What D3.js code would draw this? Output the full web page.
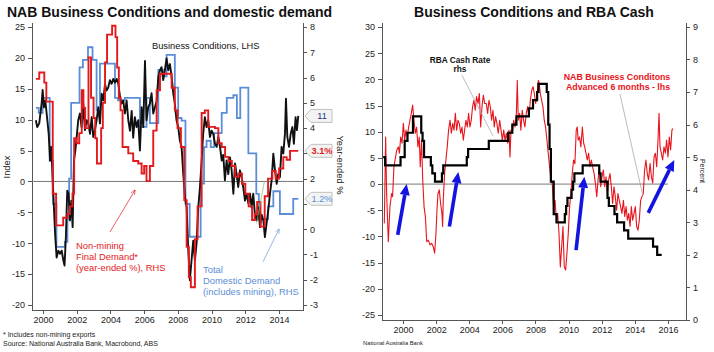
<!doctype HTML>
<html lang="en">
<head>
<title>NAB Business Conditions</title>
<script src="https://d3js.org/d3.v7.min.js"></script>
<style type="text/css">
  body { margin: 0; background: #fff; }
  svg text { font-family: "Liberation Sans", Arial, sans-serif; }
  .axis path,
  .axis line {
	fill: none;
	stroke: #555;
	shape-rendering: crispEdges;
  }
  .axis text {
	font-size: 9px;
	fill: #222;
  }
</style>
</head>
<body>
<script type="text/javascript">

// ---- data: [decimal year, value] ----

// NAB business conditions, index (left chart, LHS)
var condLhs = [
 [1999.58, 9.9], [1999.66, 8.8], [1999.78, 9.4], [1999.92, 12.6], [1999.98, 14.8], [2000.06, 12.0], [2000.14, 13.1],
 [2000.26, 9.9], [2000.34, 7.7], [2000.42, 3.4], [2000.49, 5.6], [2000.57, 0.7], [2000.65, -4.2], [2000.73, -9.0],
 [2000.81, -12.3], [2000.91, -11.2], [2001.01, -11.7], [2001.11, -11.2], [2001.21, -12.8], [2001.28, -13.6],
 [2001.36, -9.0], [2001.44, -1.5], [2001.52, -2.0], [2001.6, -6.3], [2001.68, -3.1], [2001.76, -7.4], [2001.84, 3.4],
 [2001.92, 5.0], [2002.0, 7.2], [2002.09, 9.9], [2002.19, 11.0], [2002.29, 8.8], [2002.39, 12.6], [2002.49, 8.3],
 [2002.59, 9.9], [2002.69, 9.4], [2002.79, 7.7], [2002.89, 10.4], [2002.98, 7.2], [2003.08, 8.3], [2003.18, 9.9],
 [2003.28, 12.0], [2003.38, 9.4], [2003.48, 14.2], [2003.58, 13.1], [2003.68, 15.8], [2003.77, 14.7], [2003.87, 15.2],
 [2003.97, 16.4], [2004.07, 15.8], [2004.17, 16.6], [2004.27, 16.0], [2004.37, 16.6], [2004.47, 15.8], [2004.57, 13.7],
 [2004.66, 12.6], [2004.76, 13.1], [2004.86, 11.0], [2004.96, 13.1], [2005.06, 9.9], [2005.16, 8.2], [2005.26, 11.4],
 [2005.35, 7.1], [2005.45, 10.4], [2005.55, 8.8], [2005.65, 9.9], [2005.75, 5.0], [2005.85, 12.0], [2005.95, 8.8],
 [2006.05, 19.5], [2006.14, 9.9], [2006.24, 12.0], [2006.34, 12.6], [2006.44, 14.3], [2006.54, 11.0], [2006.64, 12.0],
 [2006.74, 13.0], [2006.84, 16.9], [2006.94, 18.0], [2007.03, 18.5], [2007.13, 16.4], [2007.23, 18.0], [2007.33, 19.9],
 [2007.43, 18.0], [2007.53, 19.0], [2007.63, 16.9], [2007.73, 14.2], [2007.82, 12.6], [2007.92, 9.9], [2008.02, 8.8],
 [2008.12, 6.6], [2008.22, 5.6], [2008.32, 1.2], [2008.42, -2.5], [2008.52, -4.2], [2008.61, -10.7], [2008.71, -16.0],
 [2008.81, -12.8], [2008.91, -9.6], [2009.01, -12.8], [2009.11, -10.0], [2009.21, -4.2], [2009.31, -0.9], [2009.41, 3.4],
 [2009.5, 7.7], [2009.6, 10.4], [2009.7, 8.8], [2009.8, 9.9], [2009.9, 7.2], [2010.0, 8.2], [2010.1, 7.7], [2010.2, 6.1],
 [2010.3, 5.6], [2010.4, 7.2], [2010.5, 5.6], [2010.6, 3.4], [2010.69, 4.3], [2010.79, 0.2], [2010.89, 3.4],
 [2010.99, 1.2], [2011.09, 3.9], [2011.19, 1.8], [2011.29, -2.0], [2011.39, 2.9], [2011.48, 1.2], [2011.58, -0.9],
 [2011.68, 1.8], [2011.78, 0.7], [2011.88, -1.0], [2011.98, -3.1], [2012.08, -2.0], [2012.18, -3.6], [2012.28, -2.0],
 [2012.37, -4.2], [2012.47, -2.0], [2012.57, -5.4], [2012.67, -6.3], [2012.77, -4.2], [2012.87, -7.4], [2012.97, -5.4],
 [2013.07, -6.3], [2013.16, -9.0], [2013.26, -6.8], [2013.36, -4.7], [2013.46, -2.0], [2013.56, 0.2], [2013.66, 4.5],
 [2013.76, 1.8], [2013.86, -0.4], [2013.95, 1.2], [2014.05, 0.7], [2014.15, 5.6], [2014.25, 4.5], [2014.35, 7.7],
 [2014.41, 13.4], [2014.49, 7.2], [2014.59, 5.6], [2014.69, 7.7], [2014.79, 8.8], [2014.88, 6.1], [2014.98, 10.4],
 [2015.06, 8.3], [2015.14, 10.6]
];

// Non-mining final demand, year-ended % (RHS), steps
var demandNonMining = [
 [1999.58, 5.95], [1999.78, 6.2], [2000.08, 5.8], [2000.2, 5.05], [2000.58, 1.4], [2000.78, 0.15], [2001.2, 0.45],
 [2001.45, 0.6], [2001.6, 0.9], [2001.75, 1.4], [2001.85, 3.6], [2002.0, 3.4], [2002.15, 3.8], [2002.3, 5.5],
 [2002.4, 4.8], [2002.5, 4.0], [2002.7, 6.8], [2002.85, 5.2], [2003.0, 4.4], [2003.1, 3.6], [2003.2, 2.6],
 [2003.45, 4.0], [2003.55, 5.0], [2003.68, 6.6], [2003.8, 7.7], [2004.1, 8.05], [2004.3, 7.6], [2004.4, 6.4],
 [2004.5, 5.2], [2004.6, 4.7], [2004.72, 3.25], [2005.06, 3.0], [2005.35, 2.7], [2005.65, 2.6], [2005.85, 2.2],
 [2006.0, 2.5], [2006.14, 1.9], [2006.34, 2.5], [2006.54, 3.9], [2006.74, 5.5], [2006.94, 6.15], [2007.63, 5.6],
 [2007.82, 4.7], [2007.98, 4.0], [2008.18, 3.25], [2008.38, 1.15], [2008.52, -0.7], [2008.65, -1.9], [2008.77, -2.3],
 [2009.01, -0.4], [2009.17, 0.9], [2009.41, 4.6], [2009.6, 4.7], [2009.8, 4.05], [2010.2, 4.0], [2010.4, 3.4],
 [2010.6, 3.25], [2010.8, 2.86], [2011.0, 2.7], [2011.2, 2.5], [2011.4, 2.07], [2011.6, 2.2], [2011.8, 1.8],
 [2012.0, 1.4], [2012.2, 0.9], [2012.4, 0.36], [2012.55, 0.6], [2012.7, 1.08], [2012.9, 0.1], [2013.15, 1.3],
 [2013.35, 2.0], [2013.6, 2.3], [2013.8, 2.0], [2014.0, 2.4], [2014.25, 2.85], [2014.45, 2.75], [2014.65, 3.1],
 [2015.14, 3.1]
];

// Total domestic demand (includes mining), year-ended % (RHS), steps
var demandTotal = [
 [1999.58, 4.8], [1999.75, 4.6], [1999.98, 5.2], [2000.4, 2.7], [2000.6, 1.0], [2000.8, -0.7], [2001.3, -0.5],
 [2001.45, 0.4], [2001.55, 2.0], [2001.67, 5.0], [2002.17, 6.4], [2002.37, 6.7], [2002.67, 7.2], [2002.94, 6.7],
 [2003.18, 4.7], [2003.38, 6.55], [2004.27, 5.2], [2004.45, 5.1], [2004.85, 5.2], [2005.75, 4.05], [2006.14, 5.2],
 [2006.34, 4.2], [2006.84, 6.3], [2007.13, 6.05], [2007.33, 6.9], [2007.82, 5.6], [2008.02, 4.4], [2008.22, 4.3],
 [2008.45, 1.0], [2008.7, -0.3], [2009.35, 1.8], [2009.55, 3.25], [2009.7, 3.5], [2009.95, 3.25], [2010.15, 3.8],
 [2010.6, 4.6], [2010.9, 5.2], [2011.29, 5.3], [2011.5, 4.4], [2011.7, 5.6], [2012.18, 3.0], [2012.65, 1.4],
 [2012.8, 0.4], [2013.35, 0.9], [2013.66, 1.5], [2014.05, 0.6], [2014.84, 1.2], [2015.14, 1.2]
];

// NAB business conditions advanced 6 months (right chart, lhs)
var condAdvanced = [
 [1998.87, -7.5], [1998.95, 9.0], [1999.01, -1.8], [1999.11, -11.0], [1999.21, -4.3], [1999.31, -1.8], [1999.37, -2.4],
 [1999.45, 3.3], [1999.52, 4.6], [1999.62, 6.5], [1999.72, 7.1], [1999.78, 5.9], [1999.86, 9.0], [1999.94, 7.8],
 [2000.02, 11.6], [2000.1, 8.4], [2000.18, 10.3], [2000.26, 9.0], [2000.34, 10.9], [2000.42, 12.2], [2000.5, 13.5],
 [2000.58, 15.1], [2000.66, 12.2], [2000.74, 9.7], [2000.82, 10.9], [2000.9, 7.1], [2000.98, 9.0], [2001.04, 3.3],
 [2001.12, 8.4], [2001.19, 0.8], [2001.27, -4.3], [2001.35, -6.2], [2001.43, -11.0], [2001.53, -10.7], [2001.63, -11.6],
 [2001.73, -11.3], [2001.83, -12.0], [2001.91, -13.2], [2001.99, -9.4], [2002.05, -5.0], [2002.11, -1.8], [2002.19, -1.1],
 [2002.27, -3.7], [2002.35, -5.6], [2002.39, -8.1], [2002.43, -3.1], [2002.51, 2.0], [2002.59, 4.6], [2002.67, 7.1],
 [2002.75, 10.3], [2002.84, 12.2], [2002.92, 9.7], [2003.0, 11.6], [2003.08, 10.3], [2003.16, 13.5], [2003.24, 10.3],
 [2003.32, 12.2], [2003.4, 11.6], [2003.48, 9.7], [2003.56, 10.9], [2003.64, 8.4], [2003.72, 10.3], [2003.8, 12.2],
 [2003.88, 10.9], [2003.96, 13.5], [2004.04, 10.9], [2004.12, 12.2], [2004.2, 14.8], [2004.28, 16.0], [2004.36, 14.1],
 [2004.44, 16.7], [2004.53, 15.4], [2004.61, 17.3], [2004.69, 10.9], [2004.77, 14.8], [2004.85, 17.0], [2004.93, 15.4],
 [2005.03, 15.4], [2005.11, 13.5], [2005.19, 16.0], [2005.27, 14.8], [2005.35, 12.2], [2005.43, 14.1], [2005.51, 10.9],
 [2005.59, 12.9], [2005.67, 11.6], [2005.75, 9.7], [2005.84, 12.2], [2005.92, 10.3], [2006.0, 8.4], [2006.08, 10.3],
 [2006.16, 8.4], [2006.24, 9.7], [2006.32, 7.8], [2006.4, 10.3], [2006.46, 5.2], [2006.52, 10.3], [2006.6, 9.7],
 [2006.68, 12.2], [2006.76, 10.9], [2006.84, 12.9], [2006.9, 19.8], [2006.96, 12.2], [2007.04, 13.5], [2007.12, 10.3],
 [2007.2, 14.1], [2007.28, 12.2], [2007.36, 10.9], [2007.44, 13.5], [2007.53, 14.8], [2007.61, 12.9], [2007.69, 16.0],
 [2007.77, 17.9], [2007.85, 18.6], [2007.93, 17.3], [2008.01, 15.4], [2008.09, 16.7], [2008.17, 19.8], [2008.23, 19.2],
 [2008.29, 17.3], [2008.37, 16.0], [2008.45, 14.8], [2008.53, 12.2], [2008.61, 10.9], [2008.69, 8.4], [2008.77, 5.9],
 [2008.85, 3.3], [2008.93, 0.8], [2009.01, 0.1], [2009.09, -4.3], [2009.18, -3.1], [2009.26, -6.9], [2009.34, -5.6],
 [2009.42, -9.4], [2009.5, -15.8], [2009.58, -12.0], [2009.66, -8.1], [2009.74, -15.8], [2009.82, -16.4], [2009.9, -13.2],
 [2009.98, -9.4], [2010.06, -4.3], [2010.14, -1.8], [2010.22, 2.0], [2010.3, 4.6], [2010.38, 3.9], [2010.46, 10.3],
 [2010.52, 10.9], [2010.58, 8.4], [2010.66, 9.0], [2010.74, 7.1], [2010.83, 10.9], [2010.91, 7.8], [2010.97, 7.1],
 [2011.05, 5.9], [2011.13, 4.6], [2011.21, 5.9], [2011.29, 3.3], [2011.37, 4.6], [2011.45, 3.3], [2011.54, 2.0],
 [2011.62, 0.1], [2011.7, -2.4], [2011.78, 0.8], [2011.86, 3.3], [2011.94, -0.5], [2012.02, 1.4], [2012.1, 2.7],
 [2012.18, -0.5], [2012.26, 1.4], [2012.34, -1.8], [2012.42, 0.8], [2012.5, 2.0], [2012.58, -0.5], [2012.66, -3.7],
 [2012.74, -0.5], [2012.82, -2.4], [2012.9, -5.0], [2012.98, -1.8], [2013.06, -3.1], [2013.14, -4.3], [2013.22, -5.6],
 [2013.31, -3.1], [2013.39, -6.2], [2013.47, -4.3], [2013.55, -6.9], [2013.63, -5.6], [2013.71, -8.1], [2013.79, -4.3],
 [2013.87, -6.9], [2013.95, -5.6], [2014.03, -4.3], [2014.11, -8.1], [2014.19, -8.8], [2014.27, -6.9], [2014.35, -3.1],
 [2014.43, -2.4], [2014.51, -1.8], [2014.59, 2.7], [2014.67, 4.6], [2014.75, 2.0], [2014.83, 0.8], [2014.92, 3.9],
 [2015.0, 1.4], [2015.08, 0.2], [2015.16, 5.2], [2015.24, 5.9], [2015.32, 3.3], [2015.4, 8.4], [2015.46, 13.5],
 [2015.52, 7.1], [2015.6, 5.9], [2015.68, 4.6], [2015.76, 7.1], [2015.84, 5.9], [2015.92, 8.4], [2016.0, 5.2],
 [2016.08, 9.0], [2016.16, 6.5], [2016.24, 10.3], [2016.3, 10.6]
];

// RBA cash rate target, % (rhs), steps
var cashRate = [
 [1998.8, 5.0], [1998.92, 4.75], [1999.85, 5.0], [2000.1, 5.5], [2000.27, 5.75], [2000.6, 6.25], [2001.1, 5.75],
 [2001.18, 5.5], [2001.27, 5.0], [2001.68, 4.75], [2001.77, 4.5], [2001.93, 4.25], [2002.35, 4.5], [2002.43, 4.75],
 [2003.85, 5.0], [2003.93, 5.25], [2005.18, 5.5], [2006.35, 5.75], [2006.6, 6.0], [2006.85, 6.25], [2007.6, 6.5],
 [2007.85, 6.75], [2008.1, 7.0], [2008.18, 7.25], [2008.68, 7.0], [2008.77, 6.0], [2008.85, 5.25], [2008.93, 4.25],
 [2009.1, 3.25], [2009.27, 3.0], [2009.77, 3.25], [2009.85, 3.5], [2009.93, 3.75], [2010.18, 4.0], [2010.27, 4.25],
 [2010.35, 4.5], [2010.85, 4.75], [2011.85, 4.5], [2011.93, 4.25], [2012.35, 3.75], [2012.43, 3.5], [2012.77, 3.25],
 [2012.93, 3.0], [2013.35, 2.75], [2013.6, 2.5], [2015.1, 2.25], [2015.35, 2.0], [2015.62, 2.0]
];

// tick values
var leftYears = [2000, 2002, 2004, 2006, 2008, 2010, 2012, 2014];
var leftIndexTicks = [-20, -15, -10, -5, 0, 5, 10, 15, 20, 25];
var leftPctTicks = [-3, -2, -1, 0, 1, 2, 3, 4, 5, 6, 7, 8];
var leftPctHidden = [1, 3];   // labels sit under the callouts
var rightYears = [2000, 2002, 2004, 2006, 2008, 2010, 2012, 2014, 2016];
var rightIndexTicks = [-25, -20, -15, -10, -5, 0, 5, 10, 15, 20, 25, 30];
var rightPctTicks = [0, 1, 2, 3, 4, 5, 6, 7, 8, 9];

// annotation arrows in data units: [x1, y1, x2, y2]
var blueArrows = [[1999.68, -9.7, 2000.22, 0.0], [2002.8, -8.1, 2003.34, 2.3], [2010.45, -12.6, 2010.95, 1.4], [2014.81, -5.5, 2016.38, 4.6]];

var plain = function(d) { return String(d); };

var svg = d3.select("body").append("svg")
	.attr("width", 714)
	.attr("height", 352);

var defs = svg.append("defs");
function addMarker(id, colour) {
	defs.append("marker")
		.attr("id", id)
		.attr("viewBox", "0 0 10 10")
		.attr("refX", 9).attr("refY", 5)
		.attr("markerWidth", 7).attr("markerHeight", 7)
		.attr("orient", "auto")
		.append("path")
		.attr("d", "M0,1 L10,5 L0,9")
		.attr("fill", "none")
		.attr("stroke", colour)
		.attr("stroke-width", 1.2);
}
addMarker("headRed", "#e3191c");
addMarker("headBlue", "#6a98d6");

// ================= left chart =================
var xL = d3.scaleLinear().domain([1999.35, 2015.42]).range([32, 303]);
var yL = d3.scaleLinear().domain([-20.81, 25.81]).range([310, 22]);
var yLr = d3.scaleLinear().domain([-3.2, 8.2]).range([310, 22]);

svg.append("g").attr("class", "axis")
	.attr("transform", "translate(0," + yL.range()[0] + ")")
	.call(d3.axisBottom(xL).tickValues(leftYears).tickFormat(plain).tickSize(4).tickSizeOuter(0));
svg.append("g").attr("class", "axis")
	.attr("transform", "translate(" + xL.range()[0] + ",0)")
	.call(d3.axisLeft(yL).tickValues(leftIndexTicks).tickFormat(plain).tickSize(4).tickSizeOuter(0));
svg.append("g").attr("class", "axis")
	.attr("transform", "translate(" + xL.range()[1] + ",0)")
	.call(d3.axisRight(yLr).tickValues(leftPctTicks)
		.tickFormat(function(d) { return leftPctHidden.indexOf(d) >= 0 ? "" : String(d); })
		.tickSize(4).tickSizeOuter(0));

svg.append("line")
	.attr("x1", xL.range()[0]).attr("x2", xL.range()[1])
	.attr("y1", yL(0)).attr("y2", yL(0))
	.attr("stroke", "#777").attr("stroke-width", 1);

var stepLr = d3.line().curve(d3.curveStepAfter)
	.x(function(d) { return xL(d[0]); })
	.y(function(d) { return yLr(d[1]); });

svg.append("path").datum(demandTotal)
	.attr("fill", "none").attr("stroke", "#5b8ed6").attr("stroke-width", 1.8)
	.attr("d", stepLr);

svg.append("path").datum(condLhs)
	.attr("fill", "none").attr("stroke", "#111").attr("stroke-width", 1.9)
	.attr("stroke-linejoin", "round")
	.attr("d", d3.line().x(function(d) { return xL(d[0]); }).y(function(d) { return yL(d[1]); }));

svg.append("path").datum(demandNonMining)
	.attr("fill", "none").attr("stroke", "#e3191c").attr("stroke-width", 1.9)
	.attr("d", stepLr);

// leader lines
svg.append("line")
	.attr("x1", xL(2003.97)).attr("y1", yL(-8.2)).attr("x2", xL(2005.46)).attr("y2", yL(-1.4))
	.attr("stroke", "#e3191c").attr("stroke-width", 0.7).attr("marker-end", "url(#headRed)");
svg.append("line")
	.attr("x1", xL(2013.05)).attr("y1", yL(-13.0)).attr("x2", xL(2014.0)).attr("y2", yL(-7.7))
	.attr("stroke", "#6a98d6").attr("stroke-width", 0.7).attr("marker-end", "url(#headBlue)");
svg.append("line")
	.attr("x1", xL(2012.66)).attr("y1", yL(-6.8)).attr("x2", xL(2013.13)).attr("y2", yL(0))
	.attr("stroke", "#7fbf6a").attr("stroke-width", 0.7);

// titles and labels
svg.append("text").attr("x", 7).attr("y", 17)
	.style("font-size", "14px").style("font-weight", "bold").attr("fill", "#111")
	.text("NAB Business Conditions and domestic demand");

svg.append("text").attr("x", 152).attr("y", 49)
	.style("font-size", "9.3px").attr("fill", "#111")
	.text("Business Conditions, LHS");

var nm = svg.append("text").style("font-size", "9.4px").attr("fill", "#e3191c");
["Non-mining", "Final Demand*", "(year-ended %), RHS"].forEach(function(t, i) {
	nm.append("tspan").attr("x", 76).attr("y", 249 + i * 10.8).text(t);
});
var td = svg.append("text").style("font-size", "9.4px").attr("fill", "#5b8ed6");
["Total", "Domestic Demand", "(includes mining), RHS"].forEach(function(t, i) {
	td.append("tspan").attr("x", 203).attr("y", 273 + i * 11).text(t);
});

svg.append("text").attr("transform", "translate(10,167) rotate(-90)")
	.attr("text-anchor", "middle").style("font-size", "9.4px").attr("fill", "#222")
	.text("Index");
svg.append("text").attr("transform", "translate(337,165) rotate(90)")
	.attr("text-anchor", "middle").style("font-size", "9.4px").attr("fill", "#222")
	.text("Year-ended %");

// last value callouts
function callout(yPos, label, colour, weight) {
	var x0 = xL.range()[1] + 2, h = 6.5;
	svg.append("path")
		.attr("d", "M" + x0 + "," + yPos + " L" + (x0 + 6) + "," + (yPos - h) + " L" + (x0 + 27) + "," + (yPos - h) +
			" L" + (x0 + 27) + "," + (yPos + h) + " L" + (x0 + 6) + "," + (yPos + h) + " Z")
		.attr("fill", "#f3f3f3").attr("stroke", "#b3b3b3").attr("stroke-width", 0.8);
	svg.append("text").attr("x", x0 + 17).attr("y", yPos + 3.3)
		.attr("text-anchor", "middle").style("font-size", "9.2px").style("font-weight", weight)
		.attr("fill", colour).text(label);
}
var lastCond = condLhs[condLhs.length - 1][1];
var lastNm = demandNonMining[demandNonMining.length - 1][1];
var lastTd = demandTotal[demandTotal.length - 1][1];
callout(yL(lastCond), d3.format(".0f")(lastCond), "#2b2b86", "normal");
callout(yLr(lastNm), d3.format(".1f")(lastNm) + "%", "#e3191c", "bold");
callout(yLr(lastTd), d3.format(".1f")(lastTd) + "%", "#5b8ed6", "normal");

svg.append("text").attr("x", 3).attr("y", 337).style("font-size", "7px").attr("fill", "#222")
	.text("* Includes non-mining exports");
svg.append("text").attr("x", 3).attr("y", 346).style("font-size", "7px").attr("fill", "#222")
	.text("Source: National Australia Bank, Macrobond, ABS");

// ================= right chart =================
var xR = d3.scaleLinear().domain([1998.73, 2017.09]).range([382, 686]);
var yRl = d3.scaleLinear().domain([-25.95, 30.95]).range([320, 22]);
var yRr = d3.scaleLinear().domain([0, 9.15]).range([320, 22]);

svg.append("g").attr("class", "axis")
	.attr("transform", "translate(0," + yRl.range()[0] + ")")
	.call(d3.axisBottom(xR).tickValues(rightYears).tickFormat(plain).tickSize(4).tickSizeOuter(0));
svg.append("g").attr("class", "axis")
	.attr("transform", "translate(" + xR.range()[0] + ",0)")
	.call(d3.axisLeft(yRl).tickValues(rightIndexTicks).tickFormat(plain).tickSize(4).tickSizeOuter(0));
svg.append("g").attr("class", "axis")
	.attr("transform", "translate(" + xR.range()[1] + ",0)")
	.call(d3.axisRight(yRr).tickValues(rightPctTicks).tickFormat(plain).tickSize(4).tickSizeOuter(0));

svg.append("line")
	.attr("x1", xR.range()[0]).attr("x2", xR(2016.0))
	.attr("y1", yRl(0)).attr("y2", yRl(0))
	.attr("stroke", "#777").attr("stroke-width", 1);

svg.append("path").datum(condAdvanced)
	.attr("fill", "none").attr("stroke", "#e8141c").attr("stroke-width", 1.1)
	.attr("stroke-linejoin", "round")
	.attr("d", d3.line().x(function(d) { return xR(d[0]); }).y(function(d) { return yRl(d[1]); }));

svg.append("path").datum(cashRate)
	.attr("fill", "none").attr("stroke", "#000").attr("stroke-width", 2.2)
	.attr("d", d3.line().curve(d3.curveStepAfter)
		.x(function(d) { return xR(d[0]); })
		.y(function(d) { return yRr(d[1]); }));

// grey leaders
svg.append("line")
	.attr("x1", xR(2003.56)).attr("y1", yRl(20.8)).attr("x2", xR(2005.43)).attr("y2", yRl(9.2))
	.attr("stroke", "#aaa").attr("stroke-width", 0.8);
svg.append("line")
	.attr("x1", xR(2013.1)).attr("y1", yRl(17.2)).attr("x2", xR(2014.49)).attr("y2", yRl(-2.3))
	.attr("stroke", "#aaa").attr("stroke-width", 0.8);

// blue arrows
blueArrows.forEach(function(a) {
	var x1 = xR(a[0]), y1 = yRl(a[1]), x2 = xR(a[2]), y2 = yRl(a[3]);
	var ang = Math.atan2(y2 - y1, x2 - x1), len = 11, hw = 5;
	var bx = x2 - len * Math.cos(ang), by = y2 - len * Math.sin(ang);
	svg.append("line")
		.attr("x1", x1).attr("y1", y1).attr("x2", bx).attr("y2", by)
		.attr("stroke", "#1414e0").attr("stroke-width", 3.6);
	svg.append("path")
		.attr("d", "M" + x2 + "," + y2 +
			" L" + (bx + hw * Math.sin(ang)) + "," + (by - hw * Math.cos(ang)) +
			" L" + (bx - hw * Math.sin(ang)) + "," + (by + hw * Math.cos(ang)) + " Z")
		.attr("fill", "#1414e0");
});

svg.append("text").attr("x", 534).attr("y", 17).attr("text-anchor", "middle")
	.style("font-size", "14px").style("font-weight", "bold").attr("fill", "#111")
	.text("Business Conditions and RBA Cash");

var rba = svg.append("text").attr("text-anchor", "middle")
	.style("font-size", "8.3px").style("font-weight", "bold").attr("fill", "#111");
rba.append("tspan").attr("x", 460).attr("y", 63).text("RBA Cash Rate");
rba.append("tspan").attr("x", 460).attr("y", 72).text("rhs");

var nab = svg.append("text").attr("text-anchor", "middle")
	.style("font-size", "8.8px").style("font-weight", "bold").attr("fill", "#e8141c");
nab.append("tspan").attr("x", 617).attr("y", 80).text("NAB Business Conditons");
nab.append("tspan").attr("x", 618).attr("y", 90).text("Advanced 6 months - lhs");

svg.append("text").attr("transform", "translate(700,171) rotate(90)")
	.attr("text-anchor", "middle").style("font-size", "7px").attr("fill", "#222")
	.text("Percent");

svg.append("text").attr("x", 363).attr("y", 345).style("font-size", "5.8px").attr("fill", "#222")
	.text("National Australia Bank");

</script>
</body>
</html>
